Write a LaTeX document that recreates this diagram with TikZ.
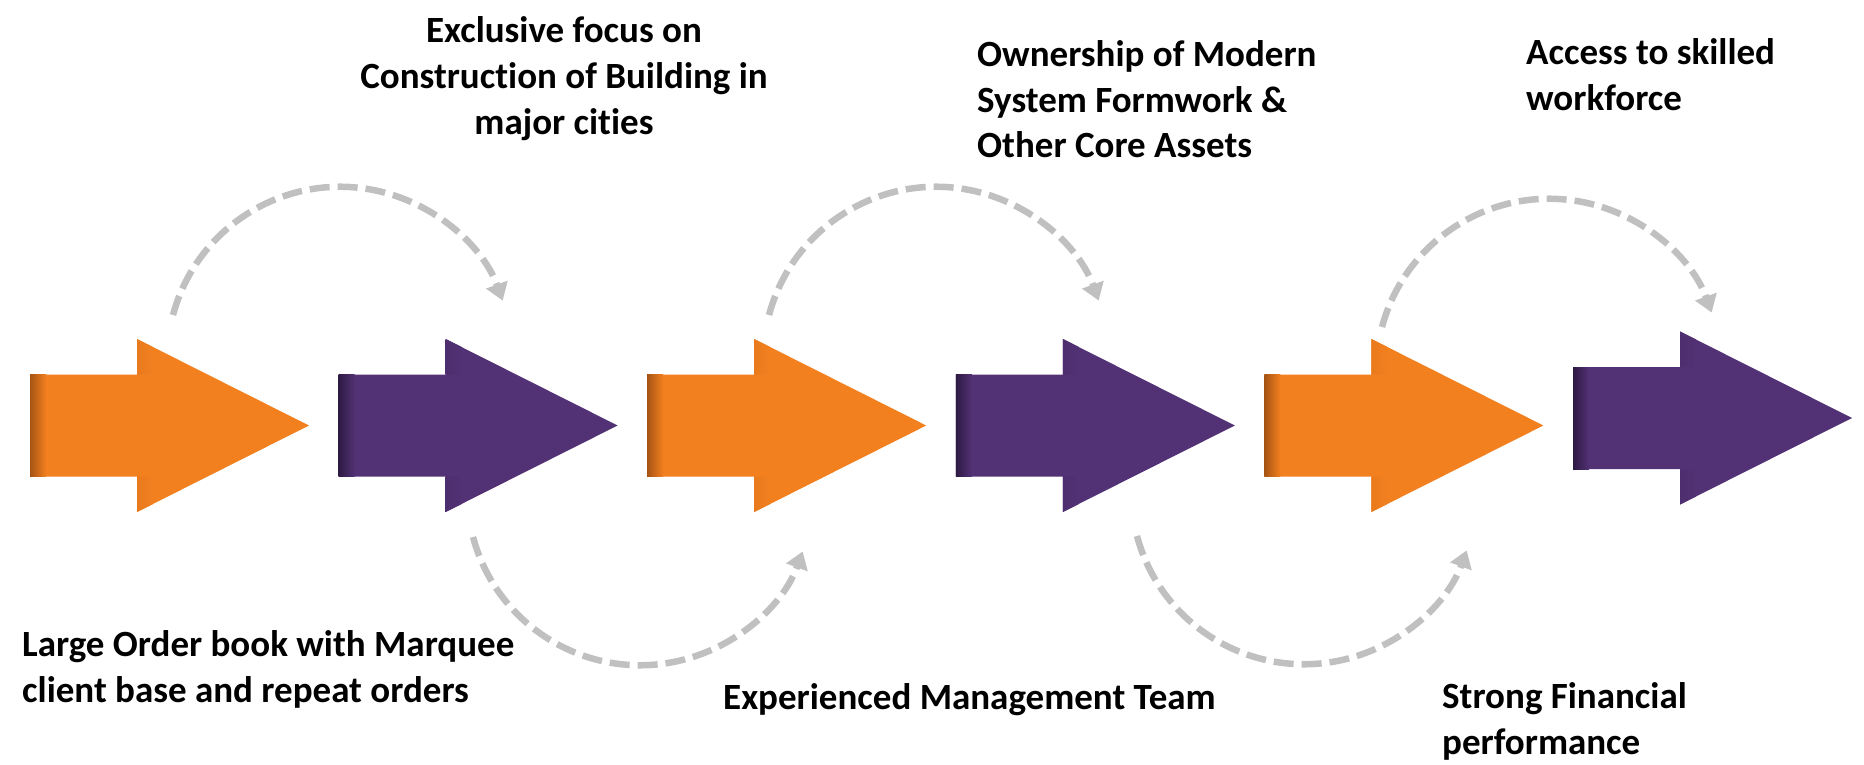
\documentclass[tikz,border=0pt]{standalone}
\usepackage{fontspec}
\setmainfont{Carlito}[Ligatures=NoCommon]
\usetikzlibrary{arrows.meta}

\definecolor{orangearr}{RGB}{242,128,31}
\definecolor{orangedark}{RGB}{166,84,20}
\definecolor{purplearr}{RGB}{82,49,116}
\definecolor{purpledark}{RGB}{46,26,68}
\definecolor{dashgray}{RGB}{192,192,192}

\def\tailL{107}
\def\headL{172}
\def\shaftW{51}
\def\headW{86.5}

\tikzset{
  txt/.style={font=\bfseries\fontsize{37}{46}\selectfont, inner sep=0pt},
  flow/.style={dashgray, line width=6.5pt, dash pattern=on 20pt off 8pt,
    -{Triangle[length=17pt,width=22pt]}},
}

\begin{document}
\begin{tikzpicture}[x=1pt,y=1pt]
  \useasboundingbox (0,0) rectangle (1864,-765);

  % the six block arrows
  \foreach \n/\x/\y/\col/\dk in {1/30/425.5/orangearr/orangedark, 2/338.6/425.5/purplearr/purpledark,
      3/647.2/425.5/orangearr/orangedark, 4/955.8/425.5/purplearr/purpledark,
      5/1264.4/425.5/orangearr/orangedark, 6/1573/418/purplearr/purpledark}{
    \coordinate (arrow\n) at (\x,-\y);
    \fill[\col] (arrow\n) ++(0,\shaftW) -- ++(\tailL,0) -- ++(0,\headW-\shaftW) -- ++(\headL,-\headW)
      -- ++(-\headL,-\headW) -- ++(0,\headW-\shaftW) -- ++(-\tailL,0) -- cycle;
    \shade[left color=\dk, right color=\col] (arrow\n) ++(0,-\shaftW) rectangle ++(16,2*\shaftW);
    \shade[left color=\dk, right color=\col] (arrow\n) ++(\tailL,\shaftW) -- ++(0,\headW-\shaftW)
      -- ++(16,-8) -- ++(0,\shaftW-\headW+8) -- cycle;
    \shade[left color=\dk, right color=\col] (arrow\n) ++(\tailL,-\shaftW) -- ++(0,\shaftW-\headW)
      -- ++(16,8) -- ++(0,\headW-\shaftW-8) -- cycle;
  }

  % dashed hops
  \coordinate (over1) at (173,-315);
  \coordinate (over2) at (769,-315);
  \coordinate (over3) at (1382,-327);
  \coordinate (under1) at (473,-537);
  \coordinate (under2) at (1137,-536);
  \draw[flow] (over1) arc[start angle=165, end angle=20, radius=173];
  \draw[flow] (over2) arc[start angle=165, end angle=20, radius=173];
  \draw[flow] (over3) arc[start angle=165, end angle=20, radius=173];
  \draw[flow] (under1) arc[start angle=195, end angle=340, radius=173];
  \draw[flow] (under2) arc[start angle=195, end angle=340, radius=173];

  % labels (base = baseline of the last line)
  \node[txt, align=center, anchor=base] (focus) at (564,-135) {Exclusive focus on\\Construction of Building in\\major cities};
  \node[txt, align=left, anchor=base west] (ownership) at (977,-158) {Ownership of Modern\\System Formwork \&\\Other Core Assets};
  \node[txt, align=left, anchor=base west] (workforce) at (1526,-111) {Access to skilled\\workforce};
  \node[txt, align=left, anchor=base west] (orderbook) at (22,-702) {Large Order book with Marquee\\client base and repeat orders};
  \node[txt, anchor=base west] (management) at (723,-709) {Experienced Management Team};
  \node[txt, align=left, anchor=base west] (financial) at (1442,-754) {Strong Financial\\performance};
\end{tikzpicture}
\end{document}
